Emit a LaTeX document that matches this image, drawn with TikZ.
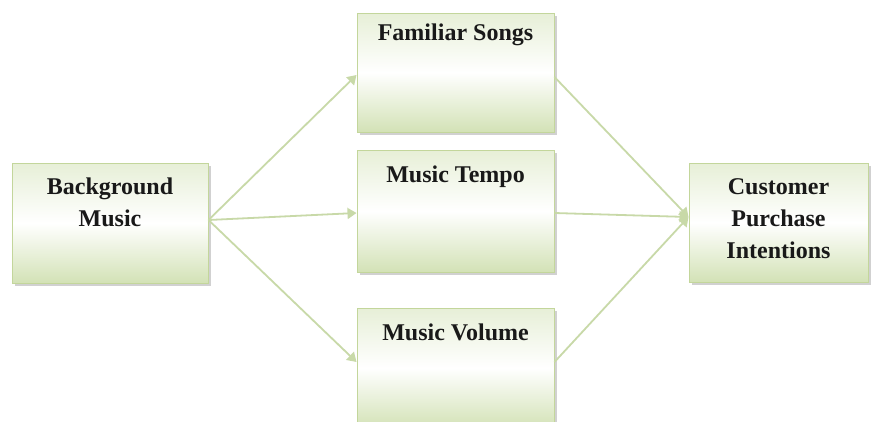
\documentclass[tikz,border=0pt]{standalone}
\usepackage{fontspec}
\setmainfont{Liberation Serif}
\usetikzlibrary{arrows.meta,shadows}
\definecolor{boxline}{HTML}{C3D69B}
\definecolor{boxbot}{HTML}{D3E2B6}
\definecolor{arrowc}{HTML}{C8D9A8}
\tikzset{
  gbox/.style={rectangle, draw=boxline, line width=1pt, top color=boxbot!55, bottom color=boxbot, middle color=white,
    drop shadow={shadow xshift=2.5pt, shadow yshift=-2.5pt, fill=gray!45, opacity=0.8}},
  lbl/.style={font=\fontsize{24}{32}\selectfont\bfseries, text=black!90, align=center, inner sep=0pt},
  conn/.style={draw=arrowc, line width=1.8pt, -{Triangle[length=9pt,width=11pt]}}
}
\begin{document}
\begin{tikzpicture}[x=1pt,y=-1pt]
\useasboundingbox (0,0) rectangle (877,421);
\clip (0,0) rectangle (877,421);
\fill[white] (0,0) rectangle (877,421);
\node[gbox, minimum width=196pt, minimum height=120pt] (bg) at (110,223) {};
\node[gbox, minimum width=197pt, minimum height=119pt] (fam) at (455.5,72.5) {};
\node[gbox, minimum width=197pt, minimum height=122pt] (tem) at (455.5,211) {};
\node[gbox, minimum width=197pt, minimum height=120pt] (vol) at (455.5,368) {};
\node[gbox, minimum width=179pt, minimum height=119pt] (cus) at (778.5,222.5) {};
\node[lbl] (tbg) at (110,202) {Background\\Music};
\node[lbl] (tfam) at (455.5,35) {Familiar Songs};
\node[lbl] (ttem) at (455.5,177) {Music Tempo};
\node[lbl] (tvol) at (455.5,332) {Music Volume};
\node[lbl] (tcus) at (778.5,219) {Customer\\Purchase\\Intentions};
\coordinate (bgo) at ([yshift=3pt]bg.east);
\coordinate (cin) at ([yshift=5.5pt]cus.west);
\draw[conn] (bgo) -- ([yshift=-2.5pt]fam.west);
\draw[conn] (bgo) -- ([yshift=-2pt]tem.west);
\draw[conn] (bgo) -- ([yshift=6pt]vol.west);
\draw[conn] ([yshift=-4.5pt]fam.east) -- (cin);
\draw[conn] ([yshift=-2pt]tem.east) -- (cin);
\draw[conn] ([yshift=6pt]vol.east) -- (cin);
\end{tikzpicture}
\end{document}
